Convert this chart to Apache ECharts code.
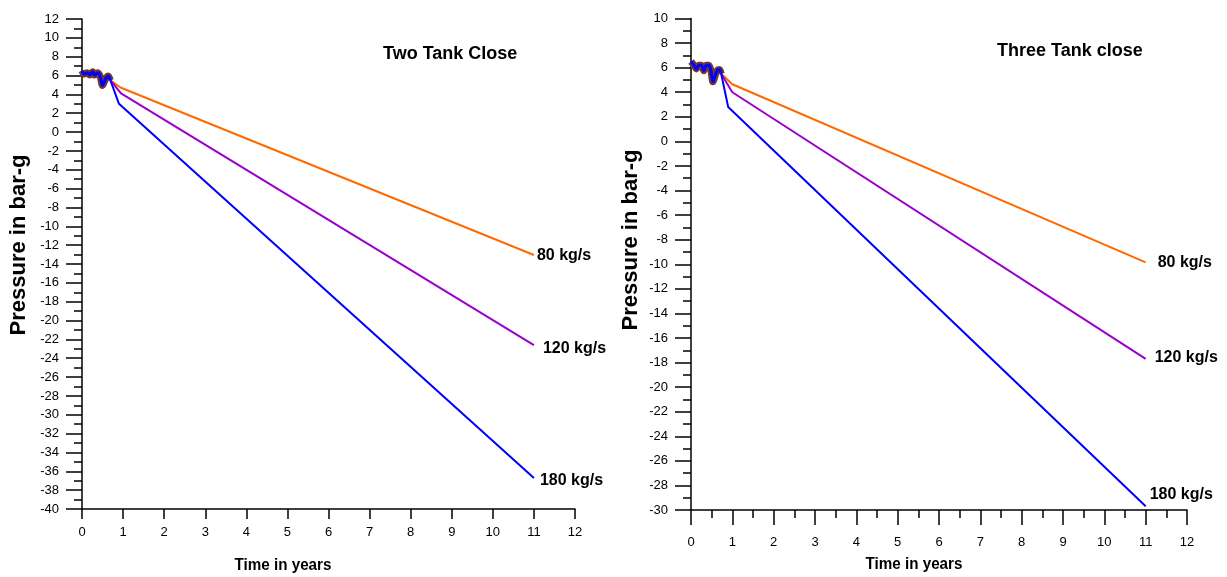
<!DOCTYPE html>
<html>
<head>
<meta charset="utf-8">
<title>Pressure decline</title>
<script src="https://cdn.jsdelivr.net/npm/echarts@6/dist/echarts.min.js"></script>
<style>
  html, body { margin: 0; padding: 0; background: #fff; }
  #chart { width: 1227px; height: 577px; }
</style>
</head>
<body>
<div id="chart"></div>
<script>
// Two-tank closure: shared early history, then one branch per withdrawal rate
const leftShared = [[0,6.5],[0.05,6.15],[0.13,6.3],[0.19,6.05],[0.26,6.4],[0.31,6.05],[0.38,6.3],[0.44,5.95],[0.5,4.95],[0.58,5.7],[0.64,5.95],[0.69,5.5]];
const left80  = [[0.69,5.5],[0.95,4.7],[11,-13.05]];
const left120 = [[0.69,5.5],[0.95,4.1],[11,-22.6]];
const left180 = [[0.69,5.5],[0.9,3.0],[11,-36.7]];

// Three-tank closure
const rightShared = [[0,6.5],[0.07,6.2],[0.13,5.9],[0.19,6.2],[0.25,6.2],[0.31,5.75],[0.37,6.2],[0.43,6.2],[0.48,5.8],[0.53,4.85],[0.59,5.4],[0.64,5.8],[0.69,5.85],[0.73,5.5]];
const right80  = [[0.73,5.5],[1.0,4.65],[11,-9.85]];
const right120 = [[0.73,5.5],[1.0,4.0],[11,-17.7]];
const right180 = [[0.73,5.5],[0.9,2.8],[11,-29.7]];

const rateLabels = ['80 kg/s', '120 kg/s', '180 kg/s'];
const panelTitles = ['Two Tank Close', 'Three Tank close'];
const yRanges = [[-40, 12], [-30, 10]];

const FONT = '"Liberation Sans", Arial, sans-serif';
const C80 = '#ff6a00', C120 = '#9a00cc', C180 = '#0000ff', BROWN = '#74392c';

function xAxisFor(gridIndex, withMinor, tickLen, margin) {
  return {
    type: 'value', gridIndex, min: 0, max: 12, interval: 1,
    axisLine: { onZero: false, lineStyle: { color: '#000', width: 1.5 } },
    axisTick: { length: tickLen, lineStyle: { color: '#000', width: 1.5 } },
    minorTick: { show: withMinor, splitNumber: 2, length: 8, lineStyle: { color: '#000', width: 1.5 } },
    splitLine: { show: false },
    axisLabel: { color: '#000', fontFamily: FONT, fontSize: 13, margin }
  };
}
function yAxisFor(gridIndex, range) {
  return {
    type: 'value', gridIndex, min: range[0], max: range[1], interval: 2,
    axisLine: { onZero: false, lineStyle: { color: '#000', width: 1.5 } },
    axisTick: { length: 16, lineStyle: { color: '#000', width: 1.5 } },
    minorTick: { show: true, splitNumber: 2, length: 8, lineStyle: { color: '#000', width: 1.5 } },
    splitLine: { show: false },
    axisLabel: { color: '#000', fontFamily: FONT, fontSize: 13, margin: 23 }
  };
}
function branch(idx, data, color, label, offset) {
  return {
    type: 'line', xAxisIndex: idx, yAxisIndex: idx, data, symbol: 'none',
    lineStyle: { color, width: 2 }, z: 3,
    endLabel: { show: true, formatter: label, color: '#000', fontFamily: FONT,
      fontSize: 16, fontWeight: 'bold', distance: 0, offset }
  };
}
function shared(idx, data) {
  return [
    { type: 'line', xAxisIndex: idx, yAxisIndex: idx, data, symbol: 'none', smooth: 0.3,
      lineStyle: { color: BROWN, width: 7 }, z: 4 },
    { type: 'line', xAxisIndex: idx, yAxisIndex: idx, data, symbol: 'none', smooth: 0.3,
      lineStyle: { color: C180, width: 3 }, z: 5 }
  ];
}
function axisName(text, x, y, size, rotation) {
  return { type: 'text', x, y, rotation,
    style: { text, fill: '#000', font: 'bold ' + size + 'px ' + FONT, align: 'center', verticalAlign: 'middle' } };
}

const chart = echarts.init(document.getElementById('chart'), null, { renderer: 'canvas' });
chart.setOption({
  animation: false,
  backgroundColor: '#fff',
  grid: [
    { left: 82, top: 19, width: 493, height: 490 },
    { left: 691, top: 18.5, width: 496, height: 491.5 }
  ],
  xAxis: [xAxisFor(0, false, 10, 17), xAxisFor(1, true, 15, 26)],
  yAxis: [yAxisFor(0, yRanges[0]), yAxisFor(1, yRanges[1])],
  graphic: [
    { type: 'text', left: 383, top: 45, style: { text: panelTitles[0], fill: '#000', font: 'bold 18px ' + FONT } },
    { type: 'text', left: 997, top: 42, style: { text: panelTitles[1], fill: '#000', font: 'bold 18px ' + FONT } },
    axisName('Pressure in bar-g', 19, 245, 22, Math.PI / 2),
    axisName('Pressure in bar-g', 631, 240, 22, Math.PI / 2),
    Object.assign(axisName('Time in years', 283, 566, 16, 0), { scaleX: 0.95 }),
    Object.assign(axisName('Time in years', 914, 565, 16, 0), { scaleX: 0.95 })
  ],
  series: [
    branch(0, left80, C80, rateLabels[0], [3, 1]),
    branch(0, left120, C120, rateLabels[1], [9, 4]),
    branch(0, left180, C180, rateLabels[2], [6, 3]),
    ...shared(0, leftShared),
    branch(1, right80, C80, rateLabels[0], [12, 0]),
    branch(1, right120, C120, rateLabels[1], [9, -1]),
    branch(1, right180, C180, rateLabels[2], [4, -12]),
    ...shared(1, rightShared)
  ]
});
</script>
</body>
</html>
